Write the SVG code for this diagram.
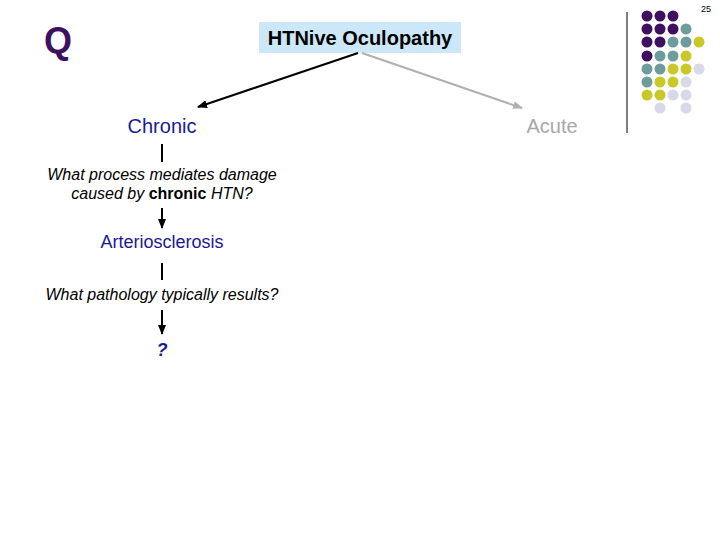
<svg xmlns="http://www.w3.org/2000/svg" width="720" height="540" viewBox="0 0 720 540">
<defs>
<marker id="ab" markerWidth="10" markerHeight="8" refX="9" refY="4" orient="auto" markerUnits="userSpaceOnUse"><path d="M0,0 L10,4 L0,8 z" fill="#000"/></marker>
<marker id="ag" markerWidth="10" markerHeight="8" refX="9" refY="4" orient="auto" markerUnits="userSpaceOnUse"><path d="M0,0 L10,4 L0,8 z" fill="#b0b0b0"/></marker>
</defs>
<style>
text{font-family:"Liberation Sans",Arial,sans-serif}
.blue{fill:#1a1a99}
.q{font-size:16px;font-style:italic;fill:#000}
.p{fill:#3d1060}.t{fill:#6e9c9c}.y{fill:#c8c828}.l{fill:#d8d8e8}
</style>
<rect width="720" height="540" fill="#fff"/>
<text x="706" y="12" font-size="9" text-anchor="middle" fill="#000">25</text>
<g id="deco">
<line x1="627" y1="12" x2="627" y2="133" stroke="#000" stroke-width="1"/>
<circle class="p" cx="647" cy="16" r="5.5"/><circle class="p" cx="660" cy="16" r="5.5"/><circle class="p" cx="673" cy="16" r="5.5"/>
<circle class="p" cx="647" cy="29" r="5.5"/><circle class="p" cx="660" cy="29" r="5.5"/><circle class="p" cx="673" cy="29" r="5.5"/><circle class="t" cx="686" cy="29" r="5.5"/>
<circle class="p" cx="647" cy="42" r="5.5"/><circle class="p" cx="660" cy="42" r="5.5"/><circle class="t" cx="673" cy="42" r="5.5"/><circle class="t" cx="686" cy="42" r="5.5"/><circle class="y" cx="699" cy="42" r="5.5"/>
<circle class="p" cx="647" cy="56" r="5.5"/><circle class="t" cx="660" cy="56" r="5.5"/><circle class="t" cx="673" cy="56" r="5.5"/><circle class="y" cx="686" cy="56" r="5.5"/>
<circle class="t" cx="647" cy="69" r="5.5"/><circle class="t" cx="660" cy="69" r="5.5"/><circle class="y" cx="673" cy="69" r="5.5"/><circle class="y" cx="686" cy="69" r="5.5"/><circle class="l" cx="699" cy="69" r="5.5"/>
<circle class="t" cx="647" cy="82" r="5.5"/><circle class="y" cx="660" cy="82" r="5.5"/><circle class="y" cx="673" cy="82" r="5.5"/><circle class="l" cx="686" cy="82" r="5.5"/>
<circle class="y" cx="647" cy="95" r="5.5"/><circle class="y" cx="660" cy="95" r="5.5"/><circle class="l" cx="673" cy="95" r="5.5"/><circle class="l" cx="686" cy="95" r="5.5"/>
<circle class="l" cx="660" cy="108" r="5.5"/><circle class="l" cx="686" cy="108" r="5.5"/>
</g>
<text x="44" y="53" font-size="36" font-weight="bold" fill="#3d1060">Q</text>
<g id="root">
<rect x="259" y="22" width="202" height="31" fill="#cce8f8"/>
<text x="360" y="45" font-size="20" font-weight="bold" text-anchor="middle" fill="#000">HTNive Oculopathy</text>
</g>
<g id="chronic"><text class="blue" x="162" y="133" font-size="20" text-anchor="middle">Chronic</text></g>
<g id="acute"><text x="552" y="133" font-size="20" text-anchor="middle" fill="#a8a8a8">Acute</text></g>
<g id="q1"><text class="q" x="162" y="180" text-anchor="middle">What process mediates damage</text>
<text class="q" x="162" y="199" text-anchor="middle">caused by <tspan font-weight="bold" font-style="normal">chronic</tspan> HTN?</text></g>
<g id="arterio"><text class="blue" x="162" y="248" font-size="18" text-anchor="middle">Arteriosclerosis</text></g>
<g id="q2"><text class="q" x="162" y="300" text-anchor="middle">What pathology typically results?</text></g>
<g id="ans"><text class="blue" x="162" y="356" font-size="18" font-weight="bold" font-style="italic" text-anchor="middle">?</text></g>
<g id="connectors" stroke-width="2" fill="none">
<line x1="358" y1="53" x2="198" y2="107" stroke="#000" marker-end="url(#ab)"/>
<line x1="362" y1="53" x2="522" y2="108" stroke="#b0b0b0" marker-end="url(#ag)"/>
<line x1="162" y1="144" x2="162" y2="162" stroke="#000"/>
<line x1="162" y1="208" x2="162" y2="228" stroke="#000" marker-end="url(#ab)"/>
<line x1="162" y1="263" x2="162" y2="280" stroke="#000"/>
<line x1="162" y1="310" x2="162" y2="334" stroke="#000" marker-end="url(#ab)"/>
</g>
</svg>
